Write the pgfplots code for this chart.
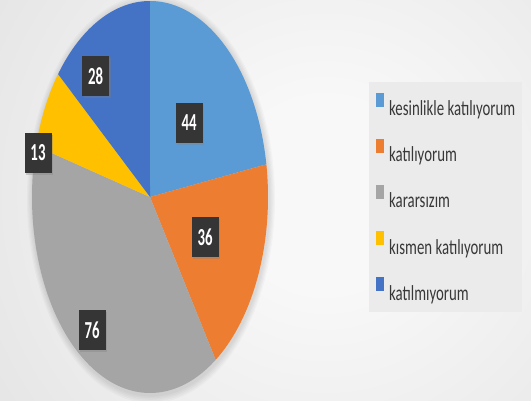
\documentclass[border=0pt]{standalone}
\usepackage{fontspec}
\setmainfont{Carlito}
\newfontfamily\legfont[FakeStretch=0.69]{Carlito}
\usepackage{pgfplots}
\usepackage{pgfplotstable}
\pgfplotsset{compat=1.18}
\usetikzlibrary{shadows}
\definecolor{cA}{HTML}{5B9BD5}
\definecolor{cB}{HTML}{ED7D31}
\definecolor{cC}{HTML}{A5A5A5}
\definecolor{cD}{HTML}{FFC000}
\definecolor{cE}{HTML}{4472C4}
\definecolor{bgin}{HTML}{F8F8F8}
\definecolor{bgmid}{HTML}{E2E2E2}
\definecolor{bgout}{HTML}{C4C4C4}
\definecolor{legbg}{HTML}{EBEBEB}
\definecolor{legtext}{HTML}{383838}
\definecolor{lblbg}{HTML}{353535}
\pgfdeclareradialshading{bgshade}{\pgfpoint{0bp}{0bp}}{color(0bp)=(bgin); color(6bp)=(bgin); color(28bp)=(bgmid); color(50bp)=(bgout)}

\pgfplotstableread{
label value
A 44
B 36
C 76
D 13
E 28
}\piedata
\pgfplotstablegetelem{0}{value}\of\piedata \let\valA\pgfplotsretval
\pgfplotstablegetelem{1}{value}\of\piedata \let\valB\pgfplotsretval
\pgfplotstablegetelem{2}{value}\of\piedata \let\valC\pgfplotsretval
\pgfplotstablegetelem{3}{value}\of\piedata \let\valD\pgfplotsretval
\pgfplotstablegetelem{4}{value}\of\piedata \let\valE\pgfplotsretval
\pgfmathsetmacro{\tot}{\valA+\valB+\valC+\valD+\valE}
\pgfmathsetmacro{\sA}{90}
\pgfmathsetmacro{\sB}{\sA-\valA/\tot*360}
\pgfmathsetmacro{\sC}{\sB-\valB/\tot*360}
\pgfmathsetmacro{\sD}{\sC-\valC/\tot*360}
\pgfmathsetmacro{\sE}{\sD-\valD/\tot*360}
\pgfmathsetmacro{\sF}{\sE-\valE/\tot*360}
\def\cx{150}\def\cy{203}\def\rx{118}\def\ry{196}

\newcommand{\lbl}[1]{\scalebox{1}[1.65]{\bfseries #1}}
\newcommand{\leg}[1]{\strut #1}

\begin{document}
\begin{tikzpicture}
\useasboundingbox (0,0) rectangle (531pt,400pt);
\begin{scope}
\clip (0,0) rectangle (531pt,400pt);
\shade[shading=bgshade] (325pt-395pt,205pt-395pt) rectangle (325pt+395pt,205pt+395pt);
\foreach \k in {1,...,5}{
  \fill[black,opacity=0.025] (\cx pt+1pt,\cy pt-2pt) ellipse ({\rx pt+1.2*\k pt} and {\ry pt+1.6*\k pt});
}
\end{scope}
\begin{axis}[
  hide axis, scale only axis, width=531pt, height=400pt,
  xmin=0, xmax=531, ymin=0, ymax=400, clip=false,
  at={(0,0)}, anchor=south west,
  legend image code/.code={\fill[#1] (0pt,0.5pt) rectangle (8pt,14.5pt);},
  legend cell align=left,
  legend style={at={(axis cs:369,318)}, anchor=north west, fill=legbg, draw=none,
    font=\legfont\fontsize{21.5}{25.8}\selectfont, text=legtext,
    inner xsep=7pt, inner ysep=10.5pt, row sep=21.9pt, column sep=5pt,
    nodes={inner sep=0pt}},
]
\addplot[fill=cA, draw=none, domain=\sB:\sA, samples=80] ({\cx+\rx*cos(x)},{\cy+\ry*sin(x)}) -- (axis cs:\cx,\cy) -- cycle;
\addlegendentry{\leg{kesinlikle katılıyorum}}
\addplot[fill=cB, draw=none, domain=\sC:\sB, samples=80] ({\cx+\rx*cos(x)},{\cy+\ry*sin(x)}) -- (axis cs:\cx,\cy) -- cycle;
\addlegendentry{\leg{katılıyorum}}
\addplot[fill=cC, draw=none, domain=\sD:\sC, samples=120] ({\cx+\rx*cos(x)},{\cy+\ry*sin(x)}) -- (axis cs:\cx,\cy) -- cycle;
\addlegendentry{\leg{kararsızım}}
\addplot[fill=cD, draw=none, domain=\sE:\sD, samples=40] ({\cx+\rx*cos(x)},{\cy+\ry*sin(x)}) -- (axis cs:\cx,\cy) -- cycle;
\addlegendentry{\leg{kısmen katılıyorum}}
\addplot[fill=cE, draw=none, domain=\sF:\sE, samples=60] ({\cx+\rx*cos(x)},{\cy+\ry*sin(x)}) -- (axis cs:\cx,\cy) -- cycle;
\addlegendentry{\leg{katılmıyorum}}

\tikzset{lb/.style={fill=lblbg, text=white, minimum width=27pt, minimum height=40pt, inner sep=0pt,
  font=\fontsize{14.8}{17}\selectfont,
  drop shadow={shadow xshift=1.8pt, shadow yshift=-1.8pt, opacity=0.35}}}
\node[lb] at (axis cs:189,277) {\lbl{\valA}};
\node[lb] at (axis cs:205,163) {\lbl{\valB}};
\node[lb] at (axis cs:92,70) {\lbl{\valC}};
\node[lb] at (axis cs:38,247) {\lbl{\valD}};
\node[lb] at (axis cs:95.5,324) {\lbl{\valE}};
\end{axis}
\end{tikzpicture}
\end{document}
